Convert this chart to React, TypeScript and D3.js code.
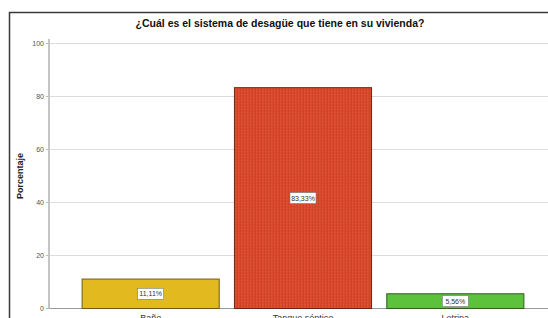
import * as d3 from 'd3';
import React from 'react';

const categories = ['Baño', 'Tanque séptico', 'Letrina'];
const values = [11.11, 83.33, 5.56];
const valueLabels = ['11,11%', '83,33%', '5,56%'];
const yTicks = [0, 20, 40, 60, 80, 100];

const fills = ['#e2ba1f', '#d9492b', '#5dc23b'];
const strokes = ['#6b5a1a', '#6e2412', '#2f5e1e'];

const width = 548;
const height = 318;
const font = 'Liberation Sans, Arial, sans-serif';

const App = () => {
	const yScale = d3.scaleLinear().domain([0, 100]).range([308.5, 43.5]);
	const xScale = d3
		.scaleBand()
		.domain(categories)
		.range([74.5, 531.5])
		.paddingInner(0.1)
		.paddingOuter(0.05);

	const axisX = 49;

	return (
		<svg
			width={width}
			height={height}
			style={{ position: 'absolute', left: 0, top: 0, background: '#fff' }}
		>
			<defs>
				<pattern id="dots" width="3" height="3" patternUnits="userSpaceOnUse">
					<rect width="3" height="3" fill={fills[1]} />
					<rect x="0" y="0" width="1" height="3" fill="#c63f22" opacity="0.6" />
					<rect x="1" y="1" width="1" height="1" fill="#e8603c" opacity="0.7" />
				</pattern>
			</defs>
			{/* outer frame */}
			<rect x={9.5} y={12.5} width={560} height={330} fill="#fff" stroke="#3a3a3a" strokeWidth={1.5} />

			<text
				x={280}
				y={27}
				textAnchor="middle"
				fontFamily={font}
				fontWeight="bold"
				fontSize={10.5}
				fill="#111"
			>
				¿Cuál es el sistema de desagüe que tiene en su vivienda?
			</text>

			{/* gridlines */}
			{yTicks.map(t => (
				<g key={t}>
					<line
						x1={axisX}
						x2={width}
						y1={yScale(t)}
						y2={yScale(t)}
						stroke={t === 0 ? '#9a9a9a' : '#dcdcdc'}
						strokeWidth={t === 0 ? 1.2 : 1}
					/>
					<line x1={axisX - 3} x2={axisX} y1={yScale(t)} y2={yScale(t)} stroke="#bbb" />
					<text
						x={axisX - 5}
						y={yScale(t)}
						dy="0.35em"
						textAnchor="end"
						fontFamily={font}
						fontSize={7}
						fill="#555"
					>
						{t}
					</text>
				</g>
			))}
			<line x1={axisX} x2={axisX} y1={39} y2={yScale(0)} stroke="#c4c4c4" strokeWidth={2} />

			<text
				transform={`translate(23,${(yScale(0) + yScale(100)) / 2}) rotate(-90)`}
				textAnchor="middle"
				fontFamily={font}
				fontWeight="bold"
				fontSize={9}
				fill="#222"
			>
				Porcentaje
			</text>

			{categories.map((c, i) => {
				const x = xScale(c) || 0;
				const y = yScale(values[i]);
				const h = yScale(0) - y;
				const cx = x + xScale.bandwidth() / 2;
				const cy = y + h / 2;
				return (
					<g key={c}>
						<rect
							x={x}
							y={y}
							width={xScale.bandwidth()}
							height={h}
							fill={i === 1 ? 'url(#dots)' : fills[i]}
							stroke={strokes[i]}
							strokeWidth={1}
						/>
						<rect
							x={cx - 13}
							y={cy - 5.5}
							width={26}
							height={11}
							fill="#fff"
							stroke="#777"
							strokeWidth={0.6}
						/>
						<text
							x={cx}
							y={cy}
							dy="0.35em"
							textAnchor="middle"
							fontFamily={font}
							fontSize={7}
							fill="#333"
						>
							{valueLabels[i]}
						</text>
						<text
							x={cx}
							y={yScale(0) + 12}
							textAnchor="middle"
							fontFamily={font}
							fontSize={9}
							fill="#333"
						>
							{c}
						</text>
					</g>
				);
			})}
		</svg>
	);
};

export default App;
